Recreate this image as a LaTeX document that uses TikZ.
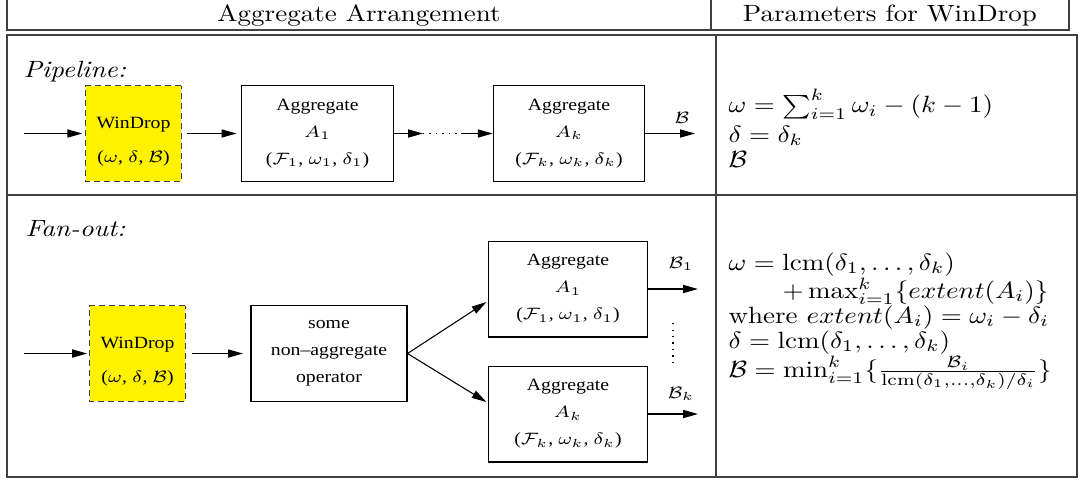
\documentclass[tikz,border=0pt]{standalone}
\usepackage{fontspec}
\usepackage{amsmath}
\newfontfamily\boxfont{Liberation Serif}
\usetikzlibrary{arrows.meta,calc}

\begin{document}
\begin{tikzpicture}[
    x=0.37pt, y=-0.4253pt, yscale=0.87,
    transform shape,
    rule/.style={draw=black!75, line width=0.6pt},
    box/.style={
        draw,
        thin,
        minimum height=40.8pt,
        align=center,
        inner sep=0pt,
        font=\boxfont\fontsize{7.3}{11.5}\selectfont
    },
    drop/.style={box, fill=yellow, draw=black!75, dash pattern=on 2.4pt off 1.3pt, minimum width=35.5pt},
    agg/.style={box, minimum width=56pt},
    arrow/.style={-{Triangle[length=5.5pt,width=3pt]}, thin},
    blabel/.style={inner sep=0pt, font=\fontsize{7}{8}\selectfont},
    params/.style={anchor=north west, align=left, inner sep=0pt, font=\fontsize{10}{10.6}\selectfont},
    rowname/.style={anchor=base west, inner sep=0pt, font=\itshape}
]
    \useasboundingbox (0,0) rectangle (1084,482);

    % table rules
    \draw[rule] (7,0) -- (7,30) -- (1069,30) -- (1069,0);
    \draw[rule] (711,0) -- (711,30);
    \draw[rule] (7,35) rectangle (1077,477);
    \draw[rule] (716,35) -- (716,477);
    \draw[rule] (7,195) -- (1077,195);

    \node[anchor=base] (hdarr) at (359,21) {Aggregate Arrangement};
    \node[anchor=base] (hdpar) at (890,21) {Parameters for WinDrop};

    % pipeline
    \node[rowname] (pname) at (23,77) {Pipeline:};
    \node[drop] (wdp) at (133.5,133.5) {\rule{0pt}{11.8pt}WinDrop\\[3pt]($\omega$, $\delta$, $\mathcal{B}$)};
    \node[agg] (pagg1) at (317.5,133.5) {Aggregate\\$A_1$\\($\mathcal{F}_1$, $\omega_1$, $\delta_1$)};
    \node[agg] (paggk) at (569,133.5) {Aggregate\\$A_k$\\($\mathcal{F}_k$, $\omega_k$, $\delta_k$)};
    \coordinate (pin) at (24,133.5);
    \coordinate (pdots1) at (423,133.5);
    \coordinate (pdots2) at (461,133.5);
    \coordinate (pout) at (695,133.5);

    \draw[arrow, shorten >=1pt] (pin) -- (wdp);
    \draw[arrow, shorten <=1.8pt, shorten >=1.8pt] (wdp) -- (pagg1);
    \draw[arrow] (pagg1) -- (pdots1);
    \draw[dotted] (pdots1) -- (pdots2);
    \draw[arrow] (pdots2) -- (paggk);
    \draw[arrow] (paggk) -- (pout);
    \node[blabel] (pb) at (682,118) {$\mathcal{B}$};

    \node[params] (pparams) at (728,89) {$\omega = \sum_{i=1}^{k}\omega_i - (k-1)$\\[2pt]
        $\delta = \delta_k$\\
        $\mathcal{B}$};

    % fan-out
    \node[rowname] (fname) at (25,236) {Fan-out:};
    \node[drop] (wdf) at (137.5,353.5) {\rule{0pt}{11.8pt}WinDrop\\[3pt]($\omega$, $\delta$, $\mathcal{B}$)};
    \node[box, minimum width=57.7pt] (op) at (329,353.5) {some\\non–aggregate\\operator};
    \node[agg, minimum width=58.5pt] (fagg1) at (568,289) {Aggregate\\$A_1$\\($\mathcal{F}_1$, $\omega_1$, $\delta_1$)};
    \node[agg, minimum width=58.5pt] (faggk) at (568,414) {Aggregate\\$A_k$\\($\mathcal{F}_k$, $\omega_k$, $\delta_k$)};
    \coordinate (fin) at (24,353.5);
    \coordinate (fout1) at (698,289);
    \coordinate (foutk) at (698,414);
    \coordinate (fdots1) at (673,323);
    \coordinate (fdots2) at (673,362);

    \draw[arrow, shorten >=0.7pt] (fin) -- (wdf);
    \draw[arrow, shorten <=2.2pt, shorten >=2.8pt] (wdf) -- (op);
    \draw[arrow] (op.east) -- ($(fagg1.west)+(-2,13)$);
    \draw[arrow] (op.east) -- ($(faggk.west)+(-2,-12)$);
    \draw[arrow] (fagg1) -- (fout1);
    \draw[arrow] (faggk) -- (foutk);
    \draw[dotted] (fdots1) -- (fdots2);
    \node[blabel] (fb1) at (681,264) {$\mathcal{B}_1$};
    \node[blabel] (fbk) at (681,394) {$\mathcal{B}_k$};

    \node[params] (fparams) at (728,252) {$\omega = \mathrm{lcm}(\delta_1, \ldots, \delta_k)$\\
        \qquad$+\max_{i=1}^{k}\{extent(A_i)\}$\\
        where $extent(A_i) = \omega_i - \delta_i$\\
        $\delta = \mathrm{lcm}(\delta_1, \ldots, \delta_k)$\\
        $\mathcal{B} = \min_{i=1}^{k}\{\frac{\mathcal{B}_i}{\mathrm{lcm}(\delta_1, \ldots, \delta_k)/\delta_i}\}$};
\end{tikzpicture}
\end{document}
